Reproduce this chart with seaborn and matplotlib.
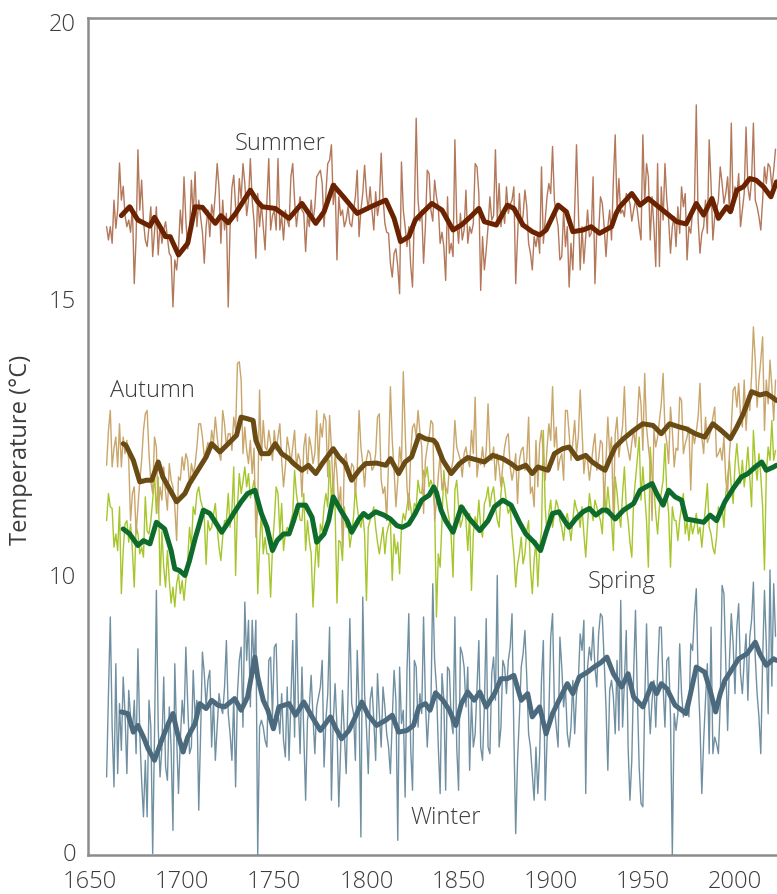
import numpy as np
import pandas as pd
import matplotlib
matplotlib.use("Agg")
import matplotlib.pyplot as plt
import seaborn as sns

# seasonal mean temperature, one value per year starting 1659
summer = [
    16.3, 16.06, 16.3, 16.0, 16.78, 16.27, 16.6, 17.45, 16.78, 17.03,
    16.5, 16.3, 16.42, 16.2, 16.66, 15.27, 16.1, 17.69, 16.6, 17.14,
    16.4, 16.06, 15.94, 16.3, 16.66, 15.76, 16.2, 16.66, 15.79, 16.36,
    16.0, 16.24, 16.39, 16.1, 15.82, 15.76, 14.85, 15.7, 15.52, 15.9,
    16.6, 16.18, 17.2, 16.42, 15.9, 16.18, 17.14, 16.5, 17.29, 16.3,
    16.78, 16.48, 16.2, 15.64, 16.3, 16.6, 16.12, 16.7, 16.48, 16.9,
    17.44, 17.0, 16.0, 16.78, 16.24, 16.54, 14.85, 16.3, 17.0, 17.23,
    16.66, 16.4, 17.17, 16.8, 17.44, 17.08, 16.5, 16.78, 17.53, 16.78,
    16.4, 15.73, 16.9, 16.3,
    16.72, 16.3, 15.88, 16.78, 17.53, 16.24, 16.5, 16.6, 16.24, 17.53,
    16.24, 16.5, 16.06, 16.6, 16.42, 16.3, 17.2, 17.44, 16.78, 16.3,
    16.6, 16.84, 16.6, 16.54, 15.85, 16.5, 16.3, 16.78, 16.4, 16.66,
    17.2, 17.26, 17.32, 17.08, 16.3, 16.9, 17.44, 17.5, 17.78, 16.7,
    17.08, 15.7, 16.84, 16.5, 16.6, 16.3, 16.42, 16.66, 16.36, 16.3,
    16.6, 16.84, 17.32, 16.12, 16.6, 16.9, 17.41, 16.9, 16.6, 17.02,
    16.6, 16.24, 16.93, 16.5, 16.72, 17.63, 16.84, 16.36, 16.2, 16.18,
    15.64, 15.39, 15.82, 15.9, 15.58, 15.09, 17.47, 16.6, 16.3, 15.94,
    16.3, 15.6, 15.21, 16.54, 18.26, 16.78, 16.4, 16.6, 15.64, 16.3,
    17.32, 17.26, 16.6, 16.4, 17.14, 16.84, 16.66,
    16.0, 16.2, 15.94, 15.33, 16.84, 15.82, 16.0, 15.76, 17.87, 16.42,
    16.0, 16.54, 16.06, 16.24, 16.96, 16.0, 16.3, 16.18, 16.36, 17.44,
    17.38, 16.9, 15.15, 16.12, 15.52, 15.88, 16.3, 16.84, 16.42, 16.5,
    17.69, 16.42, 17.08, 16.3, 16.6, 16.36, 17.02, 16.54, 16.7, 16.78,
    17.02, 15.27, 16.12, 16.9, 16.3, 16.5, 16.96, 16.66, 16.0, 15.82,
    15.52, 16.12, 15.94, 16.18, 15.82, 17.38, 16.0, 16.42, 16.84, 17.08,
    16.9, 17.75, 16.78, 16.5, 16.3, 15.7, 15.76, 16.6, 15.94, 16.3,
    15.21, 16.0, 15.52, 16.6, 17.78, 16.6, 15.52, 16.3, 15.64, 16.12,
    16.6, 16.12, 16.18, 17.2, 15.27, 16.24, 16.18, 16.84, 16.72, 16.3,
    15.76, 16.3, 16.6, 16.06, 17.14, 17.96,
    16.6, 17.17, 16.54, 16.6, 16.48, 16.9, 16.84, 16.72, 16.4, 16.6,
    16.78, 16.6, 16.3, 16.06, 17.96, 16.72, 17.44, 17.2, 16.06, 16.84,
    16.3, 15.58, 17.44, 15.58, 17.02, 16.42, 17.44, 16.78, 16.42, 15.82,
    16.3, 16.48, 15.94, 16.66, 16.18, 17.02, 16.66, 16.9, 15.7, 16.3,
    16.18, 16.6, 16.72, 18.5, 16.42, 15.82, 16.18, 16.3, 16.78, 16.18,
    17.87, 17.08, 16.06, 16.48, 16.6, 16.78, 17.38, 17.08, 16.72, 16.9,
    17.2, 16.6, 18.17, 16.6, 17.02, 16.84, 17.26, 16.3, 16.6, 16.9,
    18.1, 17.02, 16.78, 17.14, 18.17, 16.78, 16.66, 16.48, 16.24, 16.78,
    17.38, 17.08, 17.44, 17.38, 17.02, 17.32, 17.7,
]

autumn = [
    11.99, 12.62, 12.98, 11.96, 12.3, 12.5, 11.96, 12.74, 11.96, 12.5,
    12.2, 12.44, 12.08, 10.99, 11.48, 11.6, 10.75, 11.24, 11.7, 12.08,
    12.62, 12.92, 12.98, 12.2, 11.7, 11.48, 12.5, 12.32, 11.12, 11.6,
    11.36, 11.96, 11.5, 11.18, 12.02, 11.72, 11.6, 11.24, 10.63, 11.78,
    11.72, 12.14, 11.9, 12.2, 12.08, 11.6, 12.02, 11.84, 12.0, 12.32,
    12.74, 12.74, 12.5, 12.14, 12.26, 12.4, 12.2, 12.62, 12.4, 12.86,
    12.5, 12.2, 12.08, 12.98, 12.74, 12.32, 12.56, 12.56, 12.26, 12.86,
    12.62, 13.83, 13.86, 13.53, 12.2, 12.68, 12.26, 12.02, 12.44, 11.84,
    12.3, 10.69, 11.24, 13.35, 12.08, 12.8, 12.32, 12.26,
    12.62, 12.4, 12.08, 12.62, 12.26, 12.5, 12.74, 12.08, 11.6, 11.96,
    12.5, 12.3, 12.02, 12.32, 12.62, 11.96, 12.2, 12.08, 11.42, 12.32,
    12.56, 11.84, 12.5, 12.32, 12.02, 12.2, 12.98, 11.96, 12.74, 12.5,
    12.92, 12.8, 11.78, 12.89, 12.3, 11.48, 12.2, 11.84, 11.24, 11.6,
    10.51, 12.08, 12.2, 11.8, 11.72, 12.02, 11.96, 11.48, 11.9, 12.98,
    12.32, 12.02, 11.6, 12.1, 12.26, 12.2, 11.9, 11.96, 12.2, 12.86,
    12.92, 11.72, 11.48, 11.6, 10.99, 12.08, 13.41, 12.44, 11.9, 11.24,
    11.72, 12.32, 12.0, 13.68, 12.62, 11.6, 11.18, 12.2, 12.68, 12.74,
    12.5, 12.98, 12.6, 12.32, 11.12, 12.08, 12.32, 12.5, 12.8, 12.74,
    10.99, 11.36, 11.8, 12.2,
    11.54, 11.72, 11.6, 11.48, 11.96, 11.9, 12.08, 12.8, 12.32, 12.2,
    12.08, 11.78, 12.2, 12.32, 12.1, 11.96, 12.62, 12.2, 13.22, 11.78,
    12.08, 12.0, 12.32, 11.96, 12.26, 13.1, 12.2, 12.08, 12.32, 11.72,
    12.2, 11.96, 11.6, 12.0, 12.32, 12.5, 12.56, 11.96, 11.72, 11.9,
    12.2, 11.3, 12.08, 12.26, 12.32, 11.9, 12.1, 12.86, 11.48, 11.6,
    11.24, 12.44, 11.6, 12.38, 12.62, 12.2, 11.72, 12.3, 12.74, 12.44,
    13.41, 12.32, 12.68, 11.9, 12.1, 12.2, 11.72, 12.98, 12.98, 12.56,
    12.08, 12.4, 12.8, 12.2, 12.5, 13.35, 12.62, 11.84, 12.2, 12.08,
    11.72, 12.0, 12.32, 12.56, 11.9, 12.1, 12.44, 12.38, 11.24, 12.08,
    12.86, 12.2, 12.5, 10.99, 12.56,
    12.86, 12.14, 12.44, 12.7, 13.41, 12.44, 12.26, 12.08, 12.4, 12.62,
    12.32, 12.8, 13.41, 13.1, 12.26, 13.65, 12.68, 12.32, 12.0, 10.99,
    12.62, 12.32, 12.5, 12.8, 13.1, 13.65, 12.62, 12.4, 12.02, 13.04,
    12.62, 11.96, 12.3, 12.26, 13.22, 13.16, 12.2, 12.38, 12.5, 12.68,
    11.54, 12.62, 12.38, 12.6, 12.86, 13.47, 12.5, 12.2, 12.86, 12.4,
    12.5, 12.62, 12.86, 13.04, 12.14, 12.2, 12.3, 12.08, 12.5, 11.72,
    11.48, 12.2, 12.68, 13.35, 13.41, 13.04, 13.47, 12.9, 12.68, 13.53,
    12.62, 13.2, 12.98, 13.6, 14.49, 13.89, 13.04, 13.53, 13.89, 14.31,
    12.62, 13.53, 13.1, 13.89, 13.41, 12.8, 13.53,
]

spring = [
    10.99, 11.48, 11.24, 11.21, 10.51, 10.75, 10.45, 11.24, 9.34, 10.45,
    10.93, 10.99, 10.6, 10.93, 10.45, 9.58, 10.9, 10.75, 10.39, 10.51,
    10.33, 11.42, 10.8, 10.75, 10.99, 11.36, 11.84, 11.12, 11.78, 9.64,
    10.8, 10.15, 9.58, 10.45, 9.82, 9.0, 9.58, 8.86, 9.7, 10.03,
    9.34, 9.82, 9.1, 9.8, 10.27, 10.87, 10.51, 11.24, 11.1, 11.48,
    11.6, 11.36, 11.24, 11.06, 10.2, 10.99, 10.81, 10.87, 11.1, 11.3,
    10.87, 10.51, 10.27, 10.7, 10.99, 10.99, 11.48, 10.87, 11.2, 11.96,
    10.0, 11.24, 11.84, 11.48, 11.7, 11.96, 11.6, 11.84, 11.4, 11.54,
    11.72, 11.48, 9.34, 10.51, 11.18, 10.39, 10.69, 10.39,
    10.39, 9.22, 10.5, 10.99, 11.6, 11.48, 10.75, 11.3, 10.45, 10.75,
    10.87, 10.8, 10.99, 11.12, 11.9, 11.48, 11.24, 11.0, 10.99, 11.48,
    10.45, 10.99, 10.63, 10.4, 8.86, 10.15, 10.69, 10.15, 10.93, 10.8,
    11.24, 11.48, 11.24, 12.08, 11.36, 11.72, 11.2, 9.0, 10.63, 10.6,
    10.27, 11.24, 10.87, 11.0, 10.51, 10.75, 11.06, 11.6, 11.24, 10.99,
    10.87, 11.1, 10.75, 9.1, 10.87, 11.0, 11.12, 11.24, 10.87, 10.6,
    10.39, 10.63, 10.87, 10.39, 10.75, 10.9, 10.99, 9.82, 10.75, 10.39,
    10.6, 10.03, 10.87, 11.12, 11.0, 11.24, 11.48, 11.24, 10.99, 11.3,
    11.24, 11.72, 11.5, 11.48, 11.9, 11.78, 11.96, 11.6, 11.72, 11.6,
    11.24, 8.5, 10.39, 10.15,
    10.99, 11.9, 11.48, 11.2, 10.99, 10.69, 9.94, 11.54, 11.72, 11.24,
    10.87, 11.0, 11.24, 10.99, 10.45, 11.12, 9.46, 10.75, 11.06, 10.9,
    11.36, 10.87, 10.69, 11.3, 11.4, 11.6, 11.24, 11.48, 11.6, 11.24,
    11.0, 10.87, 11.48, 11.78, 11.6, 11.3, 11.12, 11.24, 10.75, 10.39,
    9.58, 10.2, 10.39, 10.69, 10.21, 10.39, 10.8, 10.99, 10.15, 9.34,
    10.27, 10.63, 9.6, 10.51, 10.8, 12.62, 11.24, 10.75, 11.12, 11.36,
    10.87, 11.1, 11.36, 11.24, 10.99, 10.87, 10.63, 11.0, 11.12, 10.87,
    10.63, 10.99, 11.36, 11.2, 11.12, 10.87, 11.24, 10.75, 10.33, 10.9,
    11.48, 11.24, 10.99, 11.36, 11.24, 11.1, 10.99, 10.75, 11.6, 11.12,
    11.6, 11.24, 11.0, 10.45, 11.78,
    11.5, 11.12, 10.87, 11.48, 11.96, 11.24, 10.99, 10.6, 10.33, 11.36,
    11.72, 12.1, 12.5, 11.36, 11.96, 11.48, 10.99, 10.15, 12.32, 11.8,
    11.6, 11.12, 10.75, 11.24, 11.5, 11.72, 12.38, 11.48, 11.12, 10.15,
    11.24, 11.0, 10.99, 10.63, 11.0, 11.24, 11.48, 10.75, 10.99, 10.63,
    10.99, 10.75, 10.9, 11.12, 10.75, 10.87, 10.51, 10.9, 11.24, 11.66,
    10.87, 10.75, 10.5, 10.39, 10.69, 11.24, 11.1, 11.24, 10.87, 11.48,
    11.78, 12.08, 11.6, 11.3, 12.0, 12.38, 11.96, 11.66, 12.08, 11.6,
    11.9, 12.32, 11.78, 11.24, 12.62, 12.02, 11.72, 12.2, 11.8, 11.24,
    10.1, 11.84, 12.32, 12.08, 12.8, 12.08, 12.26,
]

winter = [
    2.72, 5.73, 8.5, 4.52, 2.36, 6.81, 2.84, 5.37, 3.68, 6.33,
    5.01, 2.84, 5.85, 4.89, 4.28, 5.49, 3.56, 7.35, 4.28, 2.6,
    1.28, 3.32, 1.28, 5.49, 4.52, -0.05, 4.28, 9.46, 4.52, 2.72,
    3.8, 6.33, 3.08, 2.6, 5.25, 3.8, 0.79, 6.81, 4.16, 2.12,
    4.04, 5.49, 4.65, 7.41, 5.37, 3.56, 3.8, 6.57, 4.89, 5.49,
    1.52, 4.28, 7.23, 6.45, 5.25, 6.21, 6.57, 3.8, 5.49, 3.32,
    4.52, 5.73, 5.25, 5.01, 5.97, 7.65, 5.01, 4.28, 3.32, 5.61,
    2.36, 5.73, 6.93, 7.41, 4.52, 9.04, 6.93, 8.38, 5.25, 8.38,
    6.69, 8.38, -0.1, 4.52, 4.77, 4.52, 4.04, 3.8,
    6.93, 7.05, 4.89, 7.41, 7.53, 5.01, 4.28, 5.73, 4.04, 3.44,
    5.97, 3.32, 5.49, 7.65, 4.16, 8.62, 5.49, 3.56, 6.69, 4.28,
    1.88, 4.77, 5.25, 6.39, 4.89, 3.56, 5.25, 5.61, 5.97, 6.93,
    3.08, 4.77, 5.73, 8.13, 1.88, 4.77, 6.09, 4.52, 1.64, 3.8,
    5.85, 4.28, 2.84, 5.61, 8.44, 5.37, 5.01, 3.32, 7.29, 5.25,
    0.55, 9.22, 5.73, 4.52, 2.84, 5.49, 5.97, 4.77, 3.32, 6.45,
    5.01, 3.8, 5.97, 5.25, 4.28, 3.8, 2.84, 4.77, 6.57, 5.49,
    0.43, 6.69, 4.65, 5.13, 1.99, 6.57, 8.62, 3.8, 2.24, 6.93,
    6.69, 4.52, 5.73, 5.01, 8.5, 5.49, 3.8, 5.13, 5.37, 9.7,
    6.93, 5.97, 3.8, 2.12,
    6.45, 5.49, 2.24, 6.69, 6.57, 4.77, 4.28, 8.5, 3.8, 2.24,
    7.41, 7.17, 6.69, 5.25, 6.69, 2.96, 5.49, 3.8, 4.28, 5.97,
    7.65, 3.8, 3.32, 5.25, 8.44, 3.8, 3.56, 6.45, 7.05, 5.49,
    10.0, 3.8, 4.52, 6.93, 6.69, 5.73, 6.93, 7.41, 8.62, 4.28,
    0.67, 3.32, 4.89, 6.69, 7.17, 8.01, 6.33, 4.28, 3.8, 2.84,
    1.88, 3.8, 2.12, 3.56, 6.21, 7.65, 1.88, 4.04, 5.01, 7.77,
    8.62, 5.25, 4.52, 3.8, 7.77, 6.69, 5.25, 5.97, 4.28, 3.8,
    4.52, 6.21, 4.28, 5.73, 6.21, 7.89, 7.29, 8.38, 2.12, 6.69,
    7.41, 6.93, 8.13, 6.69, 5.97, 7.89, 8.62, 8.5, 6.93, 5.25,
    2.96, 5.85, 6.21, 5.61, 4.28,
    6.93, 4.4, 9.1, 4.52, 6.21, 8.01, 3.8, 1.88, 3.32, 6.45,
    8.74, 5.73, 3.08, 1.76, 1.64, 5.37, 8.25, 5.73, 4.28, 5.49,
    6.21, 4.52, 6.45, 8.13, 8.13, 5.97, 4.52, 6.93, 7.05, 4.89,
    -0.1, 5.01, 4.4, 5.01, 7.53, 5.73, 4.89, 5.25, 5.49, 4.89,
    7.53, 7.29, 8.62, 9.52, 6.33, 4.65, 2.12, 4.04, 5.49, 6.81,
    3.56, 8.13, 3.56, 4.16, 3.92, 3.56, 5.37, 9.64, 9.34, 6.93,
    4.4, 6.93, 8.62, 7.53, 5.73, 8.13, 8.98, 6.45, 5.73, 6.93,
    7.89, 5.49, 7.77, 8.38, 9.76, 7.05, 5.73, 4.89, 3.56, 6.93,
    9.46, 7.5, 5.0, 10.1, 6.0, 9.7, 7.8,
]

# smoothed curves (thick lines), (year, temp)
summer_smooth = [
    (1667, 16.5), (1671.5, 16.66), (1676, 16.42), (1682.5, 16.31), (1685, 16.47),
    (1688.5, 16.27), (1691, 16.12), (1693.5, 16.12), (1698, 15.79), (1703, 16.0),
    (1707, 16.66), (1711, 16.65), (1718, 16.36), (1721, 16.5), (1725, 16.37),
    (1729, 16.54), (1737, 16.96), (1741, 16.75), (1743.5, 16.66), (1750.5, 16.63),
    (1758, 16.45), (1765, 16.72), (1772.5, 16.36), (1777, 16.57), (1782, 17.05),
    (1787.5, 16.84), (1795, 16.54), (1803, 16.67), (1810.5, 16.78), (1815, 16.45),
    (1818.5, 16.03), (1823, 16.12), (1826.5, 16.42), (1830, 16.54), (1835.5, 16.72),
    (1841, 16.6), (1847, 16.24), (1851.5, 16.33), (1856.5, 16.48), (1861, 16.63),
    (1864, 16.39), (1870.5, 16.33), (1876.5, 16.69), (1880, 16.63), (1885, 16.33),
    (1890, 16.21), (1894, 16.15), (1897.5, 16.24), (1904, 16.69), (1908.5, 16.57),
    (1912, 16.21), (1917.5, 16.24), (1922, 16.3), (1926.5, 16.18), (1933, 16.3),
    (1935.5, 16.54), (1937.5, 16.66), (1944, 16.9), (1948.5, 16.69), (1953, 16.81),
    (1958.5, 16.66), (1963, 16.54), (1968.5, 16.39), (1973.5, 16.35), (1979, 16.72),
    (1983, 16.51), (1987.5, 16.81), (1991, 16.45), (1995.5, 16.66), (1997.5, 16.57),
    (2001, 16.96), (2004.5, 17.02), (2008, 17.17), (2011.5, 17.14), (2015.5, 17.02),
    (2019.5, 16.84), (2022.5, 17.11),
]

autumn_smooth = [
    (1668, 12.38), (1669.5, 12.35), (1673.5, 12.08), (1677, 11.69), (1680.5, 11.72),
    (1683.5, 11.72), (1687, 12.05), (1689.5, 11.78), (1693, 11.57), (1697, 11.33),
    (1701.5, 11.48), (1704, 11.66), (1708.5, 11.9), (1713, 12.14), (1716, 12.38),
    (1720.5, 12.23), (1725, 12.38), (1729.5, 12.53), (1732, 12.86), (1735.5, 12.83),
    (1738.5, 12.8), (1740, 12.44), (1743, 12.2), (1747, 12.2), (1750.5, 12.38),
    (1754, 12.2), (1758, 12.11), (1760.5, 12.02), (1765, 11.9), (1768.5, 11.99),
    (1772.5, 11.84), (1776, 12.02), (1782, 12.29), (1785, 12.14), (1788.5, 12.02),
    (1792, 11.72), (1796, 11.9), (1799.5, 12.02), (1805.5, 12.03), (1810.5, 11.99),
    (1813, 12.11), (1817.5, 11.84), (1821, 12.05), (1824.5, 12.14), (1828.5, 12.53),
    (1832, 12.47), (1836.5, 12.44), (1838, 12.38), (1841.5, 12.08), (1846, 11.84),
    (1850.5, 12.02), (1855, 12.13), (1859.5, 12.09), (1864, 12.05), (1868.5, 12.17),
    (1874, 12.11), (1878.5, 12.02), (1882, 11.93), (1886.5, 11.99), (1890, 11.84),
    (1893, 11.96), (1898.5, 11.9), (1902, 12.2), (1906.5, 12.29), (1910, 12.32),
    (1914.5, 12.11), (1919, 12.17), (1922.5, 12.05), (1926.5, 11.96), (1929.5, 11.9),
    (1932, 12.1), (1935, 12.32), (1939.5, 12.47), (1945, 12.62), (1950, 12.74),
    (1955.5, 12.71), (1960, 12.56), (1964.5, 12.74), (1970, 12.68), (1973.5, 12.65),
    (1978.5, 12.56), (1983.5, 12.5), (1988, 12.74), (1992.5, 12.62), (1997.5, 12.47),
    (2001, 12.68), (2004.5, 12.92), (2009, 13.32), (2013.5, 13.26), (2017, 13.29),
    (2021, 13.2), (2022.5, 13.16),
]

spring_smooth = [
    (1668, 10.84), (1671.5, 10.75), (1676, 10.54), (1679, 10.63), (1682.5, 10.57),
    (1686, 10.96), (1690.5, 10.84), (1694, 10.45), (1696, 10.12), (1698.5, 10.09),
    (1701.5, 10.0), (1704, 10.27), (1707, 10.66), (1711.5, 11.18), (1715, 11.12),
    (1717.5, 10.99), (1721.5, 10.78), (1725, 10.96), (1728.5, 11.15), (1732, 11.33),
    (1735.5, 11.48), (1739.5, 11.54), (1743, 11.12), (1746, 10.87), (1749, 10.45),
    (1751.5, 10.63), (1755, 10.75), (1758, 10.75), (1760.5, 10.99), (1763, 11.27),
    (1767, 11.27), (1770.5, 11.05), (1773, 10.6), (1777, 10.75), (1779.5, 10.99),
    (1782, 11.42), (1786, 11.18), (1789.5, 10.99), (1792, 10.78), (1796, 11.02),
    (1798.5, 11.12), (1801, 11.05), (1805, 11.15), (1809.5, 11.09), (1813, 11.02),
    (1816.5, 10.9), (1819.5, 10.87), (1823, 10.93), (1826.5, 11.12), (1830, 11.36),
    (1834, 11.45), (1836.5, 11.6), (1838, 11.5), (1840.5, 11.18), (1843, 10.99),
    (1847, 10.78), (1851.5, 11.24), (1856, 11.02), (1861.5, 10.81), (1866, 10.99),
    (1869.5, 11.24), (1874, 11.36), (1878.5, 11.27), (1883, 10.96), (1886.5, 10.75),
    (1891, 10.6), (1894.5, 10.45), (1897.5, 10.78), (1901, 11.12), (1904.5, 11.15),
    (1907.5, 10.99), (1910, 10.87), (1913.5, 11.02), (1917.5, 11.15), (1921, 11.21),
    (1924.5, 11.09), (1928, 11.18), (1930.5, 11.18), (1935, 11.02), (1939.5, 11.18),
    (1945, 11.3), (1948.5, 11.54), (1955, 11.66), (1957.5, 11.48), (1961, 11.27),
    (1964, 11.54), (1967.5, 11.42), (1971, 11.36), (1973.5, 11.02), (1978.5, 10.99),
    (1983, 10.96), (1986.5, 11.09), (1990, 10.99), (1994.5, 11.33), (1999, 11.57),
    (2003.5, 11.78), (2007, 11.84), (2011, 11.96), (2014.5, 12.05), (2017, 11.9),
    (2021, 11.96), (2022.5, 11.99),
]

winter_smooth = [
    (1667, 5.07), (1670.5, 5.01), (1673.5, 4.34), (1676, 4.58), (1679, 4.16),
    (1681.5, 3.74), (1685, 3.32), (1688.5, 3.98), (1692.5, 4.65), (1695, 5.01),
    (1697.5, 4.28), (1700.5, 3.62), (1703, 4.16), (1707, 4.65), (1709.5, 5.37),
    (1713, 5.19), (1716, 5.49), (1719.5, 5.31), (1723, 5.25), (1728.5, 5.55),
    (1732, 5.13), (1735.5, 5.61), (1739.5, 7.05), (1741, 6.33), (1744, 5.49),
    (1746.5, 5.13), (1749.5, 4.46), (1752.5, 5.25), (1758, 5.37), (1761.5, 4.95),
    (1766, 5.43), (1770.5, 4.89), (1775, 4.4), (1780.5, 4.89), (1783, 4.52),
    (1786.5, 4.1), (1790.5, 4.4), (1794, 4.89), (1797.5, 5.43), (1801, 4.95),
    (1805.5, 4.58), (1810.5, 4.77), (1814, 4.95), (1817.5, 4.34), (1822, 4.4),
    (1825.5, 4.58), (1828.5, 5.25), (1832, 5.37), (1834.5, 5.13), (1837.5, 5.76),
    (1841.5, 5.49), (1845, 5.13), (1848.5, 4.58), (1851.5, 5.37), (1855, 5.79),
    (1858.5, 5.49), (1861.5, 5.79), (1865, 5.25), (1869.5, 5.73), (1873, 6.27),
    (1876.5, 6.27), (1880, 6.39), (1884, 5.49), (1887.5, 5.73), (1890, 4.89),
    (1894, 5.25), (1897.5, 4.28), (1901, 5.01), (1904.5, 5.49), (1909, 6.09),
    (1912, 5.73), (1915.5, 6.33), (1920, 6.51), (1923.5, 6.69), (1927, 6.84),
    (1930.5, 7.05), (1934, 6.45), (1938.5, 5.97), (1942, 6.45), (1945, 5.61),
    (1950, 5.25), (1955, 6.09), (1957.5, 5.73), (1960, 6.09), (1963, 5.91),
    (1967.5, 5.31), (1973.5, 5.01), (1979, 6.69), (1983.5, 6.51), (1986.5, 5.85),
    (1989.5, 5.07), (1992, 5.73), (1994.5, 6.21), (1998, 6.57), (2002, 6.99),
    (2006.5, 7.17), (2011, 7.59), (2013.5, 7.17), (2017, 6.75), (2021, 6.99),
    (2022.5, 6.93),
]

first_year = 1659
y_ticks = [0, 10, 15, 20]
x_ticks = [1650, 1700, 1750, 1800, 1850, 1900, 1950, 2000]

# label text and where it sits (year, temp)
labels = [("Summer", 1753, 17.69), ("Autumn", 1683.6, 13.22),
          ("Spring", 1938.7, 9.53), ("Winter", 1843, 1.01)]

thin_col = {"Winter": "#7090a2", "Spring": "#a6c62c", "Autumn": "#c9a66b", "Summer": "#b3785a"}
thick_col = {"Winter": "#4c6a7e", "Spring": "#0d6b2c", "Autumn": "#6b4b14", "Summer": "#6b2200"}

sns.set_style("white")
plt.rcParams["font.family"] = ["Open Sans", "DejaVu Sans"]
plt.rcParams["font.weight"] = "light"
text_col = "#3c3c3c"

fig = plt.figure(figsize=(7.77, 8.94), dpi=100)
ax = fig.add_axes([88 / 777, 39 / 894, 689 / 777, 837 / 894])

annual = {"Winter": winter, "Spring": spring, "Autumn": autumn, "Summer": summer}
smooth = {"Winter": winter_smooth, "Spring": spring_smooth,
          "Autumn": autumn_smooth, "Summer": summer_smooth}

for name, vals in annual.items():
    df = pd.DataFrame({"year": np.arange(first_year, first_year + len(vals)), "temp": vals})
    sns.lineplot(data=df, x="year", y="temp", ax=ax, color=thin_col[name],
                 linewidth=1.0, estimator=None, solid_joinstyle="round")

for name, pts in smooth.items():
    df = pd.DataFrame(pts, columns=["year", "temp"])
    sns.lineplot(data=df, x="year", y="temp", ax=ax, color=thick_col[name],
                 linewidth=3.6, estimator=None, solid_joinstyle="round",
                 solid_capstyle="round")


# the axis below 10 degC is squeezed to half the spacing
def squash(v):
    v = np.asarray(v, dtype=float)
    return np.where(v < 10, v / 2 + 5, v)


def unsquash(t):
    t = np.asarray(t, dtype=float)
    return np.where(t < 10, (t - 5) * 2, t)


ax.set_yscale("function", functions=(squash, unsquash))
ax.set_ylim(-0.1, 20.07)
ax.set_xlim(1648.9, 2022.8)
ax.set_yticks(y_ticks)
ax.set_yticklabels([str(t) for t in y_ticks])
ax.set_xticks(x_ticks)
ax.set_xticklabels([str(t) for t in x_ticks])
ax.yaxis.set_minor_locator(plt.NullLocator())

for name, x, y in labels:
    ax.text(x, y, name, ha="center", va="baseline", fontsize=17, color=text_col)

ax.set_xlabel("")
ax.set_ylabel("Temperature (°C)", fontsize=17, color=text_col)
ax.yaxis.set_label_coords(-0.08, 0.484)

ax.spines["right"].set_visible(False)
for s in ["left", "bottom", "top"]:
    ax.spines[s].set_color("#8c8c8c")
    ax.spines[s].set_linewidth(1.8)
ax.tick_params(axis="both", length=0, labelsize=17, colors=text_col)
ax.tick_params(axis="y", pad=8.5)
ax.tick_params(axis="x", pad=11)

fig.savefig("out.png", dpi=100)
